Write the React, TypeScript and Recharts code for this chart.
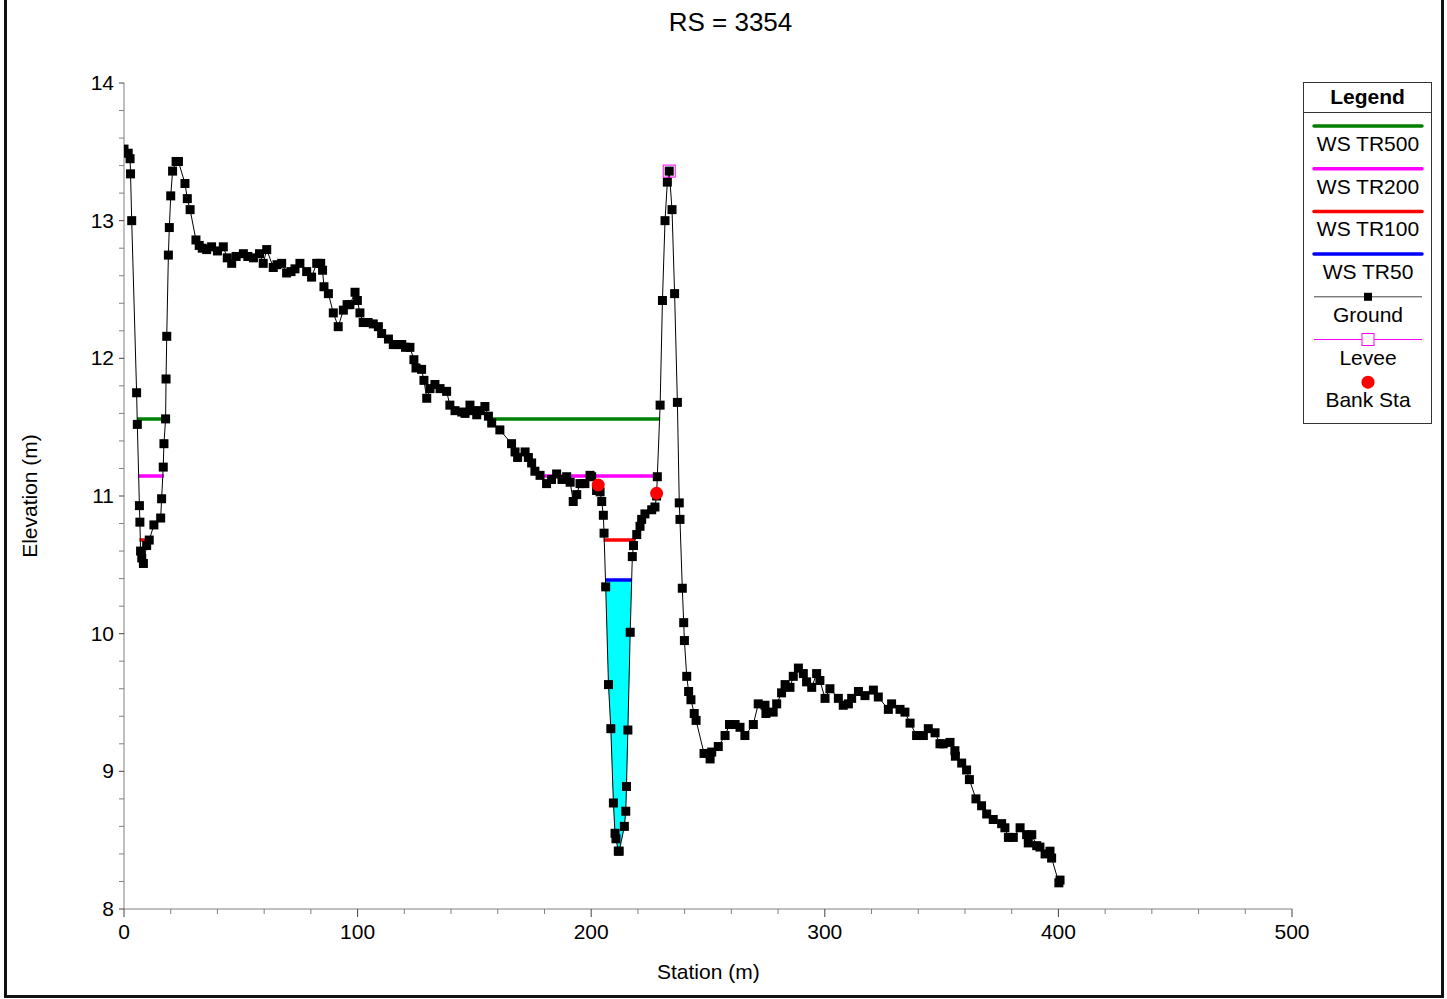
import React from "react";
import { ComposedChart, Line, Area, XAxis, YAxis } from "recharts";

const FONT = '"Liberation Sans", Arial, sans-serif';

// ground points (station m, elevation m)
const groundSta = [
  0, 1.8, 2.6, 2.8, 3.3, 5.4, 5.7, 6.6, 6.8, 7.1, 7.6, 8.3, 9.7, 10.8, 12.8, 15.7, 16.1, 16.8, 17.1, 17.8,
  18.0, 18.3, 19.0, 19.4, 20.0, 20.8, 22.3, 23.3, 26.1, 27.1, 28.3, 30.8, 32.2, 33.5, 35.4, 37.5, 40, 42.5,
  44.2, 46.1, 48, 51.1, 53, 55.4, 58, 59.6, 61.1, 63.9, 65.5, 67.5, 69.6, 71.5, 73.2, 75.3, 78.2, 80.3, 82.5,
  84.2, 85, 85.6, 87.5, 89.6, 91.7, 93.9, 95.5, 96.7, 98.9, 99.9, 101, 102.4, 104.5, 106.7, 108.9, 110.3,
  113.2, 115.3, 117, 118.9, 120.5, 122.4, 124.1, 125, 127.4, 128.4, 129.6, 131, 133.1, 135.3, 138.1, 139.5,
  141.7, 144.6, 146, 148.1, 149.5, 151, 152.5, 154.5, 156, 157.4, 160.9, 165.9, 167.4, 168.5, 171.7, 173.1,
  174.5, 175.9, 178.1, 180.9, 183, 185.2, 187.5, 189.5, 191, 192.3, 193.8, 195.2, 197.3, 199.5, 200.2, 202.3,
  203.8, 204.5, 205.2, 205.5, 206.2, 207.4, 208.4, 209.5, 210.2, 210.6, 211.6, 212, 214.2, 214.8, 215.1,
  215.7, 216.7, 217.6, 218.1, 219.5, 220.9, 221.6, 223, 225.9, 227.3, 228, 228.3, 229.5, 230.5, 231.6, 232.6,
  233.4, 234.6, 235.7, 236.9, 237.7, 238, 239, 239.6, 239.9, 240.9, 241.7, 242.7, 244.1, 244.9, 248.3, 250.9,
  251.6, 254.4, 257.3, 259.2, 261.6, 263.7, 265.8, 269.4, 271.5, 274.4, 274.8, 277.9, 279.4, 281.5, 283,
  285.1, 286.5, 288.7, 290.8, 292.2, 294.4, 296.5, 297.9, 300.1, 302.2, 305.8, 307.9, 310.1, 311.5, 314.4,
  317.2, 320.8, 322.9, 327.2, 328.6, 332.2, 334.3, 336.5, 339.3, 342.2, 344.3, 347.2, 349.3, 350.7, 353.6,
  355.7, 355.9, 358.6, 360.7, 361.9, 364.7, 367.1, 369.3, 372.1, 375.7, 377.1, 378.6, 380.7, 383.6, 386.4,
  387.1, 388.6, 390.7, 392.1, 394.3, 396.4, 397.1, 400.2, 400.7,
];
const groundElev = [
  13.52, 13.49, 13.45, 13.34, 13.0, 11.75, 11.52, 10.93, 10.81, 10.6, 10.55, 10.51, 10.64, 10.68, 10.79, 10.84,
  10.98, 11.21, 11.38, 11.56, 11.85, 12.16, 12.75, 12.95, 13.18, 13.36, 13.43, 13.43, 13.27, 13.16, 13.08,
  12.86, 12.82, 12.8, 12.79, 12.81, 12.78, 12.81, 12.73, 12.69, 12.74, 12.76, 12.74, 12.73, 12.76, 12.69,
  12.79, 12.66, 12.68, 12.69, 12.62, 12.63, 12.65, 12.69, 12.63, 12.59, 12.69, 12.69, 12.64, 12.52, 12.47,
  12.33, 12.23, 12.35, 12.39, 12.39, 12.48, 12.42, 12.33, 12.26, 12.26, 12.25, 12.23, 12.18, 12.14, 12.1,
  12.1, 12.1, 12.08, 12.08, 11.99, 11.93, 11.92, 11.84, 11.71, 11.78, 11.81, 11.78, 11.76, 11.66, 11.62,
  11.61, 11.6, 11.66, 11.62, 11.59, 11.62, 11.65, 11.58, 11.53, 11.48, 11.38, 11.32, 11.28, 11.32, 11.28,
  11.24, 11.18, 11.15, 11.09, 11.12, 11.16, 11.12, 11.14, 11.1, 10.96, 11.01, 11.09, 11.09, 11.15, 11.14,
  11.04, 11.03, 10.96, 10.86, 10.73, 10.34, 9.63, 9.31, 8.77, 8.55, 8.51, 8.42, 8.42, 8.6, 8.71, 8.89, 9.3,
  10.01, 10.56, 10.64, 10.72, 10.78, 10.83, 10.87, 10.9, 10.92, 11.0, 11.14, 11.66, 12.42, 13.0, 13.28, 13.36,
  13.08, 12.47, 11.68, 10.95, 10.83, 10.33, 10.08, 9.95, 9.69, 9.58, 9.52, 9.42, 9.37, 9.13, 9.09, 9.14, 9.18,
  9.26, 9.34, 9.34, 9.32, 9.26, 9.34, 9.49, 9.48, 9.42, 9.43, 9.49, 9.57, 9.63, 9.61, 9.69, 9.75, 9.71, 9.65,
  9.61, 9.71, 9.66, 9.53, 9.6, 9.53, 9.48, 9.49, 9.53, 9.58, 9.55, 9.59, 9.54, 9.45, 9.49, 9.45, 9.43, 9.35,
  9.26, 9.26, 9.31, 9.28, 9.2, 9.2, 9.21, 9.15, 9.11, 9.06, 9.01, 8.94, 8.8, 8.75, 8.69, 8.65, 8.62, 8.59,
  8.52, 8.52, 8.59, 8.54, 8.48, 8.54, 8.46, 8.45, 8.4, 8.42, 8.37, 8.19, 8.21,
];

// water surfaces
const wsNames = ["WS TR500", "WS TR200", "WS TR100", "WS TR50"];
const wsColors = ["#008000", "#ff00ff", "#ff0000", "#0000ff"];
const wsElev = [11.56, 11.145, 10.68, 10.39];
const wsSegments = [
  [[5.6, 17.8], [155.8, 229.5]],
  [[6.0, 17.1], [177.2, 229.0]],
  [[6.6, 11.6], [205.3, 218.7]],
  [[206.1, 217.3]],
];

// wetted part of the channel under WS TR50
const channelSta = [206.1, 206.2, 207.4, 208.4, 209.5, 210.2, 210.6, 211.6, 212, 214.2, 214.8, 215.1, 215.7, 216.7, 217.3];
const channelElev = [10.39, 10.34, 9.63, 9.31, 8.77, 8.55, 8.51, 8.42, 8.42, 8.6, 8.71, 8.89, 9.3, 10.01, 10.39];

const leveeSta = [233.4];
const leveeElev = [13.36];
const bankSta = [203.0, 228.0];
const bankElev = [11.08, 11.02];

const xTicks = [0, 20, 40, 60, 80, 100, 120, 140, 160, 180, 200, 220, 240, 260, 280, 300, 320, 340, 360, 380, 400, 420, 440, 460, 480, 500];
const yTicks = [8, 8.2, 8.4, 8.6, 8.8, 9, 9.2, 9.4, 9.6, 9.8, 10, 10.2, 10.4, 10.6, 10.8, 11, 11.2, 11.4, 11.6, 11.8, 12, 12.2, 12.4, 12.6, 12.8, 13, 13.2, 13.4, 13.6, 13.8, 14];

const ground = groundSta.map((x, i) => ({ x, y: groundElev[i] }));
const channel = channelSta.map((x, i) => ({ x, range: [channelElev[i], wsElev[3]] }));
const levee = leveeSta.map((x, i) => ({ x, y: leveeElev[i] }));
const banks = bankSta.map((x, i) => ({ x, y: bankElev[i] }));

const wsData = wsSegments.map((segs, k) => {
  const pts: any[] = [];
  segs.forEach((s, j) => {
    if (j > 0) pts.push({ x: (segs[j - 1][1] + s[0]) / 2, y: null });
    pts.push({ x: s[0], y: wsElev[k] });
    pts.push({ x: s[1], y: wsElev[k] });
  });
  return pts;
});

const XTick = (props: any) => {
  const { x, y, payload } = props;
  const major = payload.value % 100 === 0;
  return (
    <g>
      <line x1={x} x2={x} y1={y} y2={y + (major ? 8 : 5)} stroke={major ? "#444" : "#808080"} />
      {major && (
        <text x={x} y={y + 30} textAnchor="middle" fontSize={21} fontFamily={FONT} fill="#000">
          {payload.value}
        </text>
      )}
    </g>
  );
};

const YTick = (props: any) => {
  const { x, y, payload } = props;
  const v = payload.value;
  const major = Math.abs(v - Math.round(v)) < 1e-6;
  return (
    <g>
      <line x1={x - 5} x2={x} y1={y} y2={y} stroke={major ? "#444" : "#808080"} />
      {major && (
        <text x={x - 10} y={y + 7} textAnchor="end" fontSize={21} fontFamily={FONT} fill="#000">
          {Math.round(v)}
        </text>
      )}
    </g>
  );
};

const groundDot = (p: any) => (
  <rect key={`g-${p.index}`} x={p.cx - 4.5} y={p.cy - 4.5} width={9} height={9} fill="#000" />
);
const leveeDot = (p: any) => (
  <rect key={`l-${p.index}`} x={p.cx - 6} y={p.cy - 6} width={12} height={12} fill="none" stroke="#ff00ff" strokeWidth={1} />
);
const bankDot = (p: any) => <circle key={`b-${p.index}`} cx={p.cx} cy={p.cy} r={6.5} fill="#ff0000" />;

const LegendBox = () => {
  const rowH = 42.7;
  const items = [
    ...wsNames.map((n, i) => ({ name: n, kind: "ws", color: wsColors[i] })),
    { name: "Ground", kind: "ground", color: "#000" },
    { name: "Levee", kind: "levee", color: "#ff00ff" },
    { name: "Bank Sta", kind: "bank", color: "#ff0000" },
  ];
  return (
    <div
      style={{
        position: "absolute",
        left: 1303,
        top: 82,
        width: 127,
        height: 340,
        border: "1px solid #333",
        background: "#fff",
        fontFamily: FONT,
      }}
    >
      <div
        style={{
          height: 29,
          borderBottom: "1px solid #333",
          textAlign: "center",
          fontWeight: "bold",
          fontSize: 21,
          lineHeight: "27px",
        }}
      >
        Legend
      </div>
      <svg width={127} height={310} style={{ position: "absolute", left: 0, top: 30 }}>
        {items.map((it, i) => {
          const ly = 13 + rowH * i;
          return (
            <g key={it.name}>
              {it.kind === "ws" && <line x1={10} x2={118} y1={ly} y2={ly} stroke={it.color} strokeWidth={3.5} strokeLinecap="round" />}
              {it.kind === "ground" && (
                <g>
                  <line x1={10} x2={118} y1={ly} y2={ly} stroke="#444" strokeWidth={1} />
                  <rect x={60} y={ly - 4} width={8} height={8} fill="#000" />
                </g>
              )}
              {it.kind === "levee" && (
                <g>
                  <line x1={10} x2={118} y1={ly} y2={ly} stroke="#ff00ff" strokeWidth={1} />
                  <rect x={58} y={ly - 6} width={12} height={12} fill="#fff" stroke="#ff00ff" />
                </g>
              )}
              {it.kind === "bank" && <circle cx={64} cy={ly} r={6.5} fill="#ff0000" />}
              <text x={64} y={ly + 25} textAnchor="middle" fontSize={21} fontFamily={FONT} fill="#000">
                {it.name}
              </text>
            </g>
          );
        })}
      </svg>
    </div>
  );
};

export default function App() {
  return (
    <div style={{ position: "absolute", left: 0, top: 0, width: 1447, height: 999, background: "#fff", overflow: "hidden" }}>
      <div
        style={{
          position: "absolute",
          left: 4,
          top: -6,
          width: 1434,
          height: 998,
          border: "3px solid #111",
        }}
      />
      <div
        style={{
          position: "absolute",
          left: 0,
          width: 1447,
          top: 7,
          textAlign: "center",
          fontFamily: FONT,
          fontSize: 26,
          paddingLeft: 7,
        }}
      >
        RS = 3354
      </div>
      <div style={{ position: "absolute", left: 0, top: 0 }}>
        <ComposedChart width={1447} height={999} margin={{ top: 83, right: 155, bottom: 30, left: 0 }}>
          <XAxis
            type="number"
            dataKey="x"
            domain={[0, 500]}
            ticks={xTicks}
            interval={0}
            height={60}
            tickSize={0}
            tickMargin={0}
            tickLine={false}
            tick={<XTick />}
            stroke="#808080"
            allowDataOverflow
          />
          <YAxis
            type="number"
            domain={[8, 14]}
            ticks={yTicks}
            interval={0}
            width={124}
            tickSize={0}
            tickMargin={0}
            tickLine={false}
            tick={<YTick />}
            stroke="#808080"
            allowDataOverflow
          />
          <Area data={channel} dataKey="range" type="linear" fill="#00ffff" fillOpacity={1} stroke="none" isAnimationActive={false} />
          {wsData.map((d, k) => (
            <Line
              key={wsNames[k]}
              data={d}
              dataKey="y"
              stroke={wsColors[k]}
              strokeWidth={3.5}
              dot={false}
              activeDot={false}
              connectNulls={false}
              isAnimationActive={false}
            />
          ))}
          <Line data={ground} dataKey="y" stroke="#000" strokeWidth={1} dot={groundDot} activeDot={false} isAnimationActive={false} />
          <Line data={banks} dataKey="y" stroke="none" dot={bankDot} activeDot={false} isAnimationActive={false} />
          <Line data={levee} dataKey="y" stroke="none" dot={leveeDot} activeDot={false} isAnimationActive={false} />
        </ComposedChart>
      </div>
      <div
        style={{
          position: "absolute",
          left: 657,
          top: 960,
          fontFamily: FONT,
          fontSize: 21,
          whiteSpace: "nowrap",
        }}
      >
        Station (m)
      </div>
      <div
        style={{
          position: "absolute",
          left: 30,
          top: 496,
          fontFamily: FONT,
          fontSize: 21,
          whiteSpace: "nowrap",
          transform: "translate(-50%, -50%) rotate(-90deg)",
        }}
      >
        Elevation (m)
      </div>
      <LegendBox />
    </div>
  );
}
